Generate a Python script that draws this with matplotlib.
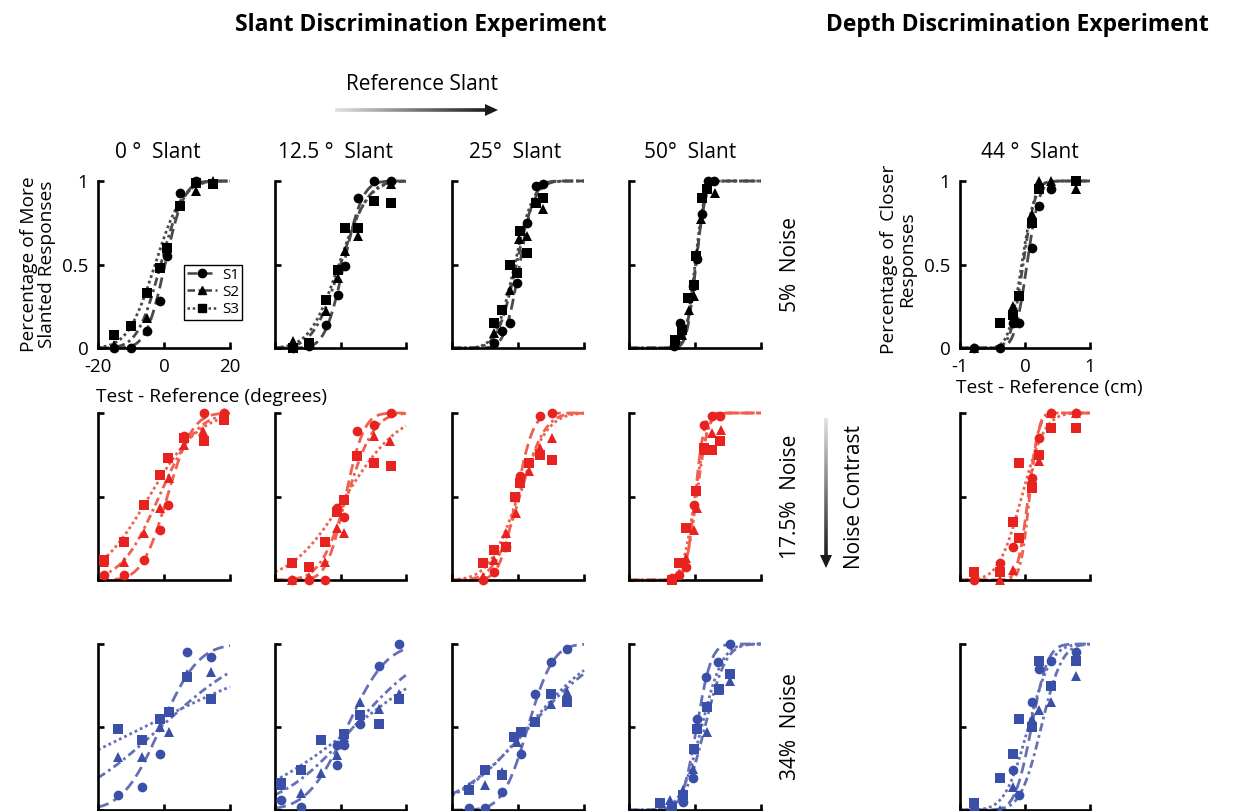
import math
import numpy as np
import matplotlib
matplotlib.use("Agg")
import matplotlib.pyplot as plt
from matplotlib.collections import LineCollection
from matplotlib.patches import Polygon
from matplotlib.lines import Line2D

plt.rcParams['font.family'] = ['Open Sans', 'DejaVu Sans']
plt.rcParams['axes.unicode_minus'] = False

W, H = 1234, 811

# ---------- labels ----------
col_titles = ["0 \u00b0  Slant", "12.5 \u00b0  Slant", "25\u00b0  Slant", "50\u00b0  Slant", "44 \u00b0  Slant"]
row_titles = ["5%  Noise", "17.5%  Noise", "34%  Noise"]
subjects = ["S1", "S2", "S3"]

# ---------- data: 5% noise (one list per column, last column = depth in cm) ----------
n5_s1_x = [[-15.1, -10.1, -5.2, -1.2, 0.8, 4.9, 9.8],
           [-14.6, -9.5, -4.4, -0.7, 1.4, 5.2, 10.3, 15.4],
           [-7.4, -4.9, -2.4, -0.2, 2.6, 5.4, 7.7],
           [-6.4, -4.4, -1.9, -0.6, 0.5, 2.2, 3.9, 5.9],
           [-0.78, -0.38, -0.19, -0.09, 0.10, 0.21, 0.40, 0.79]]
n5_s1_p = [[0, 0, 0.10, 0.28, 0.55, 0.93, 1.0],
           [0, 0.01, 0.14, 0.32, 0.49, 0.90, 1.0, 1.0],
           [0.03, 0.10, 0.15, 0.39, 0.75, 0.97, 0.98],
           [0.01, 0.15, 0.30, 0.37, 0.53, 0.80, 1.0, 1.0],
           [0, 0, 0.15, 0.15, 0.60, 0.85, 0.95, 1.0]]
n5_s2_x = [[-15.1, -10.1, -5.2, -1.2, 4.9, 9.8, 14.8],
           [-14.6, -9.5, -4.4, -0.7, 1.4, 5.2, 10.3, 15.4],
           [-7.4, -4.9, -2.4, 0.3, 2.7, 5.4, 7.7],
           [-6.2, -3.9, -1.9, -0.4, 0.5, 1.7, 3.5, 6.2],
           [-0.78, -0.19, -0.09, 0.10, 0.21, 0.40, 0.79]]
n5_s2_p = [[0.02, 0.13, 0.18, 0.48, 0.85, 0.94, 1.0],
           [0.04, 0.02, 0.22, 0.42, 0.58, 0.67, 0.88, 0.98],
           [0.09, 0.23, 0.35, 0.65, 0.67, 0.87, 0.83],
           [0.02, 0.08, 0.23, 0.31, 0.57, 0.77, 0.95, 0.93],
           [0, 0.25, 0.31, 0.80, 1.0, 1.0, 0.95]]
n5_s3_x = [[-15.1, -10.1, -5.2, -1.2, 0.8, 4.9, 9.8, 14.8],
           [-14.6, -9.5, -4.4, -0.7, 1.4, 5.2, 10.3, 15.4],
           [-7.4, -4.9, -2.4, -0.2, 0.5, 2.6, 5.4, 7.7],
           [-6.2, -3.9, -2.2, -0.4, 0.3, 2.2, 3.5],
           [-0.38, -0.19, -0.09, 0.10, 0.21, 0.79]]
n5_s3_p = [[0.08, 0.13, 0.33, 0.48, 0.60, 0.85, 0.99, 0.98],
           [0, 0.03, 0.29, 0.47, 0.72, 0.72, 0.88, 0.87],
           [0.15, 0.23, 0.50, 0.45, 0.70, 0.57, 0.87, 0.90],
           [0.05, 0.11, 0.30, 0.38, 0.55, 0.90, 0.95],
           [0.15, 0.20, 0.31, 0.75, 0.95, 1.0]]
# fitted psychometric curves: [S1, S2, S3] per column
n5_mu = [[0.3, -1.0, -2.7], [1.0, 0.0, -0.5], [0.5, -0.5, -1.0], [0.3, 0.2, 0.0], [0.03, -0.03, -0.05]]
n5_sd = [[4.5, 5.5, 6.5], [4.5, 6.5, 7.0], [3.5, 4.5, 4.5], [2.2, 2.4, 2.3], [0.15, 0.15, 0.16]]

# ---------- data: 17.5% noise ----------
n175_s1_x = [[-18.2, -12.1, -6.0, -1.2, 1.2, 6.1, 12.2, 18.2],
             [-14.9, -9.7, -4.6, -1.0, 1.0, 5.1, 10.3, 15.4],
             [-10.6, -7.2, -3.6, 0.5, 6.7, 10.4],
             [-7.1, -4.9, -2.7, -0.4, 2.7, 5.2, 7.5],
             [-0.78, -0.38, -0.19, 0.10, 0.21, 0.40, 0.79]]
n175_s1_p = [[0.03, 0.03, 0.12, 0.30, 0.45, 0.86, 1.0, 1.0],
             [0, 0, 0, 0.43, 0.38, 0.89, 0.93, 1.0],
             [0, 0.05, 0.20, 0.62, 0.98, 1.0],
             [0.01, 0.03, 0.08, 0.45, 0.93, 0.98, 0.98],
             [0, 0.10, 0.20, 0.61, 0.85, 1.0, 1.0]]
n175_s2_x = [[-18.2, -12.1, -6.0, -1.2, 1.4, 6.1, 11.9, 18.2],
             [-14.9, -9.7, -4.6, -1.0, 1.2, 4.9, 10.3, 15.2],
             [-10.6, -7.2, -3.6, -0.6, 3.3, 6.7, 10.4],
             [-7.1, -2.7, -0.2, 0.7, 2.7, 5.2, 8.0],
             [-0.38, -0.19, 0.10, 0.21, 0.40, 0.79]]
n175_s2_p = [[0.11, 0.11, 0.28, 0.43, 0.61, 0.81, 0.89, 1.0],
             [0, 0.02, 0.11, 0.31, 0.28, 0.74, 0.86, 0.83],
             [0.02, 0.12, 0.28, 0.40, 0.65, 0.79, 0.85],
             [0, 0.13, 0.30, 0.43, 0.78, 0.88, 0.90],
             [0, 0.06, 0.61, 0.71, 1.0, 1.0]]
n175_s3_x = [[-18.2, -12.1, -6.0, -1.2, 1.2, 6.1, 12.2, 18.2],
             [-14.9, -9.7, -4.6, -1.0, 1.2, 4.9, 10.3, 15.4],
             [-10.6, -7.2, -3.6, -0.9, 0.5, 3.3, 6.7, 10.4],
             [-7.1, -4.9, -2.7, 0.4, 2.7, 5.2, 7.5],
             [-0.78, -0.38, -0.19, -0.09, -0.09, 0.10, 0.21, 0.40, 0.79]]
n175_s3_p = [[0.12, 0.23, 0.45, 0.63, 0.73, 0.85, 0.83, 0.96],
             [0.10, 0.08, 0.23, 0.41, 0.48, 0.74, 0.70, 0.68],
             [0.10, 0.18, 0.20, 0.50, 0.58, 0.70, 0.75, 0.72],
             [0, 0.10, 0.31, 0.53, 0.79, 0.78, 0.83],
             [0.05, 0.05, 0.35, 0.25, 0.70, 0.55, 0.75, 0.91, 0.91]]
n175_mu = [[1.0, -1.5, -4.5], [1.5, 2.0, 1.5], [-0.5, 0.5, 0.0], [0.0, 0.5, 0.0], [0.05, 0.07, -0.05]]
n175_sd = [[6.0, 9.0, 12.0], [4.5, 6.5, 13.0], [4.0, 6.0, 7.0], [2.2, 2.7, 3.0], [0.13, 0.11, 0.28]]

# ---------- data: 34% noise ----------
n34_s1_x = [[-13.8, -6.8, -1.2, 7.1, 14.2],
            [-18.2, -12.1, -1.2, -1.2, 1.2, 6.0, 11.9, 18.0],
            [-14.9, -9.9, -5.0, 1.0, 5.0, 10.1, 14.9],
            [-7.6, -3.5, -0.6, 0.6, 3.4, 7.0, 10.6],
            [-0.78, -0.19, -0.09, 0.10, 0.21, 0.40, 0.79]]
n34_s1_p = [[0.09, 0.14, 0.34, 0.95, 0.92],
            [0.06, 0.02, 0.27, 0.39, 0.39, 0.52, 0.87, 1.0],
            [0.01, 0.01, 0.11, 0.34, 0.70, 0.89, 0.97],
            [0.0, 0.05, 0.19, 0.55, 0.80, 0.89, 1.0],
            [0, 0.24, 0.09, 0.65, 0.85, 0.90, 0.95]]
n34_s2_x = [[-13.8, -6.8, -1.2, 1.5, 7.1, 14.2],
            [-18.2, -12.1, -6.1, -1.2, 1.2, 6.0, 11.9, 18.0],
            [-14.9, -10.1, -5.0, -0.3, 5.0, 10.1, 14.9],
            [-7.6, -3.5, -0.6, 3.7, 7.2, 10.6],
            [-0.38, -0.19, 0.10, 0.21, 0.40, 0.79]]
n34_s2_p = [[0.32, 0.32, 0.50, 0.47, 0.82, 0.83],
            [0.15, 0.10, 0.22, 0.33, 0.44, 0.65, 0.61, 0.70],
            [0.14, 0.15, 0.23, 0.41, 0.53, 0.64, 0.71],
            [0.06, 0.12, 0.25, 0.47, 0.72, 0.78],
            [0, 0.14, 0.55, 0.60, 0.65, 0.81]]
n34_s3_x = [[-13.8, -6.8, -1.2, 1.4, 7.1, 14.2],
            [-18.2, -12.1, -6.1, 1.2, 6.0, 11.9, 18.0],
            [-14.9, -10.1, -5.0, -1.1, 0.8, 5.0, 10.1, 14.9],
            [-10.6, -7.0, -3.5, -0.2, 0.6, 3.5, 7.2, 10.6],
            [-0.78, -0.38, -0.19, -0.09, 0.10, 0.21, 0.40, 0.79]]
n34_s3_p = [[0.49, 0.42, 0.55, 0.59, 0.80, 0.67],
            [0.16, 0.24, 0.42, 0.46, 0.57, 0.52, 0.67],
            [0.12, 0.24, 0.21, 0.44, 0.47, 0.53, 0.70, 0.65],
            [0.04, 0.02, 0.09, 0.37, 0.49, 0.62, 0.73, 0.82],
            [0.04, 0.19, 0.34, 0.55, 0.50, 0.90, 0.75, 0.90]]
n34_mu = [[-1.0, -1.0, -6.0], [2.0, 4.0, 4.0], [3.0, 3.5, 3.0], [0.5, 3.0, 2.0], [0.10, 0.25, 0.05]]
n34_sd = [[9.0, 22.0, 40.0], [9.5, 18.0, 26.0], [6.0, 18.0, 17.0], [3.5, 5.0, 5.0], [0.20, 0.25, 0.28]]

x_ranges = [(-20, 20), (-20, 20), (-20, 20), (-20, 20), (-1, 1)]

rows = [
    ([n5_s1_x, n5_s2_x, n5_s3_x], [n5_s1_p, n5_s2_p, n5_s3_p], n5_mu, n5_sd),
    ([n175_s1_x, n175_s2_x, n175_s3_x], [n175_s1_p, n175_s2_p, n175_s3_p], n175_mu, n175_sd),
    ([n34_s1_x, n34_s2_x, n34_s3_x], [n34_s1_p, n34_s2_p, n34_s3_p], n34_mu, n34_sd),
]

line_colors = ['#4a4a4a', '#f0604e', '#6670b5']
mark_colors = ['#000000', '#e8231f', '#3a50a8']
styles = [(0, (4, 2)), (0, (3, 1.4, 1, 1.4)), (0, (1, 1.1))]
markers = ['o', '^', 's']
msizes = [7, 7.5, 6.5]

col_px = [(98, 230), (275, 406), (452, 584), (629, 761), (960, 1090)]
row_px = [(181, 348), (413, 580), (644, 810)]

erf = np.vectorize(math.erf)


def psychometric(x, mu, sd):
    return 0.5 * (1 + erf((x - mu) / (sd * math.sqrt(2))))


def grad_arrow(ax, x0, y0, x1, y1, head=13, hw=6):
    L = math.hypot(x1 - x0, y1 - y0)
    ux, uy = (x1 - x0) / L, (y1 - y0) / L
    xe, ye = x1 - ux * head, y1 - uy * head
    n = 80
    t = np.linspace(0, 1, n + 1)
    xs = x0 + (xe - x0) * t
    ys = y0 + (ye - y0) * t
    segs = [[(xs[i], ys[i]), (xs[i + 1], ys[i + 1])] for i in range(n)]
    g = np.linspace(0.88, 0.12, n)
    cols = [(v, v, v) for v in g]
    ax.add_collection(LineCollection(segs, colors=cols, linewidths=2.6))
    px, py = -uy, ux
    tri = [(x1, y1), (xe + px * hw, ye + py * hw), (xe - px * hw, ye - py * hw)]
    ax.add_patch(Polygon(tri, closed=True, color='#1a1a1a', lw=0))


fig = plt.figure(figsize=(W / 100, H / 100), dpi=100)
ax0 = fig.add_axes([0, 0, 1, 1])
ax0.set_xlim(0, W)
ax0.set_ylim(H, 0)
ax0.axis('off')

for r, (xs_all, ps_all, mus, sds) in enumerate(rows):
    for c in range(5):
        x0, x1 = col_px[c]
        y0, y1 = row_px[r]
        ax = fig.add_axes([x0 / W, 1 - y1 / H, (x1 - x0) / W, (y1 - y0) / H])
        lo, hi = x_ranges[c]
        xx = np.linspace(lo, hi, 300)
        for s in range(3):
            ax.plot(xx, psychometric(xx, mus[c][s], sds[c][s]), color=line_colors[r],
                    ls=styles[s], lw=2.0, clip_on=False, zorder=2)
        for s in range(3):
            ax.plot(xs_all[s][c], ps_all[s][c], ls='none', marker=markers[s], ms=msizes[s],
                    color=mark_colors[r], mew=0, clip_on=False, zorder=3)
        ax.set_xlim(lo, hi)
        ax.set_ylim(0, 1)
        ax.patch.set_alpha(0)
        for sp in ['top', 'right']:
            ax.spines[sp].set_visible(False)
        for sp in ['left', 'bottom']:
            ax.spines[sp].set_linewidth(1.9)
        ax.set_xticks([lo, 0, hi])
        ax.set_yticks([0, 0.5, 1])
        ax.tick_params(direction='in', length=4, width=1.9, labelsize=13.5)
        ax.tick_params(axis='x', pad=7)
        ax.tick_params(axis='y', pad=7)
        if r == 0 and c in (0, 4):
            ax.set_xticklabels([str(lo), '0', str(hi)])
            ax.set_yticklabels(['0', '0.5', '1'])
        else:
            ax.set_xticklabels([])
            ax.set_yticklabels([])
        if r == 0 and c == 0:
            handles = [Line2D([], [], color='#444444', ls=styles[s], lw=1.8, marker=markers[s],
                              ms=6, mfc='black', mec='black') for s in range(3)]
            leg = ax.legend(handles, subjects, loc='upper left', bbox_to_anchor=(0.65, 0.50),
                            fontsize=11, frameon=True, fancybox=False, edgecolor='black',
                            framealpha=1, handlelength=2.0, handletextpad=0.3, borderpad=0.2,
                            labelspacing=0.15, borderaxespad=0)
            leg.get_frame().set_linewidth(1.0)

# ---------- text ----------
ax0.text(421, 25, "Slant Discrimination Experiment", ha='center', va='center', fontsize=16.5, weight='bold')
ax0.text(1017, 25, "Depth Discrimination Experiment", ha='center', va='center', fontsize=16.5, weight='bold')
ax0.text(422, 85, "Reference Slant", ha='center', va='center', fontsize=15)
grad_arrow(ax0, 335, 110, 498, 110)

for c, x in enumerate([158, 336, 515, 690, 1030]):
    ax0.text(x, 153, col_titles[c], ha='center', va='center', fontsize=15)
for r, y in enumerate([265, 497, 727]):
    ax0.text(790, y, row_titles[r], ha='center', va='center', fontsize=15, rotation=90)
ax0.text(855, 497, "Noise Contrast", ha='center', va='center', fontsize=15, rotation=90)
grad_arrow(ax0, 826, 418, 826, 568)

ax0.text(38, 264, "Percentage of More\nSlanted Responses", ha='center', va='center',
         fontsize=13.8, rotation=90, linespacing=1.05)
ax0.text(898, 259, "Percentage of  Closer\nResponses", ha='center', va='center',
         fontsize=13.8, rotation=90, linespacing=1.05)
ax0.text(212, 397, "Test - Reference (degrees)", ha='center', va='center', fontsize=13.8)
ax0.text(1049, 388, "Test - Reference (cm)", ha='center', va='center', fontsize=13.8)

fig.savefig("out.png", dpi=100)
